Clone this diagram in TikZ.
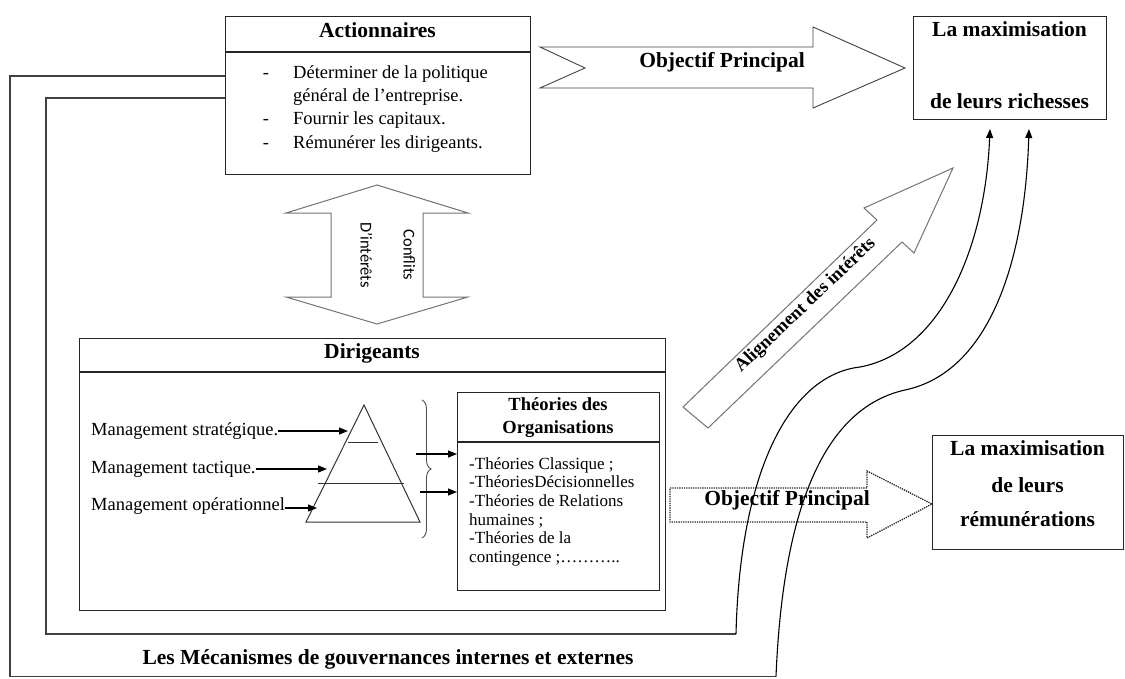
\documentclass[tikz,border=0pt]{standalone}
\usepackage{fontspec}
\setmainfont{Liberation Serif}
\newfontfamily\calib{Carlito}
\usetikzlibrary{arrows.meta,decorations.pathreplacing}
\begin{document}
\begin{tikzpicture}[x=1pt,y=-1pt,
  box/.style={draw=black!85, line width=1.1pt, inner sep=0pt, anchor=north west},
  hline/.style={draw=black!85, line width=1.1pt},
  ttl/.style={font=\fontsize{21.5}{26}\selectfont\bfseries, inner sep=0pt, text height=0.68em, text depth=0.2em},
  sttl/.style={font=\fontsize{18.5}{22}\selectfont\bfseries, inner sep=0pt, text height=0.68em, text depth=0.2em},
  body/.style={font=\fontsize{18.5}{23}\selectfont, inner sep=0pt, anchor=west, text height=0.66em, text depth=0.22em},
  lst/.style={font=\fontsize{17}{20}\selectfont, inner sep=0pt, anchor=west, text height=0.66em, text depth=0.22em},
  bigarrow/.style={draw=black!75, line width=0.9pt, line join=miter},
  greyarrow/.style={draw=black!55, line width=1pt, line join=miter},
  ptr/.style={line width=1.2pt, -{Triangle[length=9pt,width=7pt]}},
  link/.style={draw=black!75, line width=1.1pt},
  sans/.style={font=\calib\fontsize{16.5}{20}\selectfont, inner sep=0pt, text height=0.66em, text depth=0.2em}
]
\useasboundingbox (0,0) rectangle (1125,678);

% ---------- Actionnaires ----------
\node[box, minimum width=305pt, minimum height=158pt] (act) at (225,16) {};
\draw[hline] (225,52) -- (530,52);
\node[ttl] (actT) at (377.5,35) {Actionnaires};
\node[body, anchor=center] (d1) at (266,76) {-};
\node[body] (a1) at (293,76) {Déterminer de la politique};
\node[body] (a2) at (293,99) {général de l’entreprise.};
\node[body, anchor=center] (d2) at (266,122) {-};
\node[body] (a3) at (293,122) {Fournir les capitaux.};
\node[body, anchor=center] (d3) at (266,146) {-};
\node[body] (a4) at (293,146) {Rémunérer les dirigeants.};

% ---------- top arrow ----------
\draw[bigarrow] (540,47) -- (813,47) -- (813,27) -- (905,68) -- (813,108) -- (813,88) -- (540,88) -- (585,68) -- cycle;
\node[ttl] (obj1) at (722,65) {Objectif Principal};

% ---------- richesses box ----------
\node[box, minimum width=193pt, minimum height=103pt] (rich) at (913,16) {};
\node[ttl] (r1) at (1009.5,34) {La maximisation};
\node[ttl] (r2) at (1009.5,106) {de leurs richesses};

% ---------- conflits ----------
\draw[greyarrow] (377,185) -- (468,213) -- (423,213) -- (423,297) -- (468,297) -- (377,324) -- (286,297) -- (331,297) -- (331,213) -- (286,213) -- cycle;
\node[sans, rotate=-90] (c1) at (406,255) {Conflits};
\node[sans, rotate=-90] (c2) at (363,255) {D’intérêts};

% ---------- Dirigeants ----------
\node[box, minimum width=586pt, minimum height=272pt] (dir) at (79,338) {};
\draw[hline] (79,372) -- (665,372);
\node[ttl] (dirT) at (372,356) {Dirigeants};

\node[body] (m1) at (91,433) {Management stratégique.};
\node[body] (m2) at (91,471) {Management tactique.};
\node[body] (m3) at (91,508) {Management opérationnel};

% pyramid
\coordinate (pA) at (364,405);
\coordinate (pL) at (306,522);
\coordinate (pR) at (420,522);
\draw[black!80, line width=1pt] (pA) -- (pL) -- (pR) -- cycle;
\draw[black!80, line width=1pt] (348,442) -- (378,442);
\draw[black!80, line width=1pt] (318,483) -- (404,483);
\coordinate (t1) at (348,431);
\coordinate (t2) at (327,469);
\coordinate (t3) at (317,508);
\draw[ptr] (m1.east |- t1) -- (t1);
\draw[ptr] (m2.east |- t2) -- (t2);
\draw[ptr] (m3.east |- t3) -- (t3);

% brace
\draw[black!70, line width=0.9pt, decorate, decoration={brace, amplitude=9pt}] (422,400) -- (422,538);

% Theories box
\node[box, minimum width=202pt, minimum height=198pt] (theo) at (457,392) {};
\draw[hline] (457,442) -- (659,442);
\node[sttl] (th1) at (558,408) {Théories des};
\node[sttl] (th2) at (558,431) {Organisations};
\coordinate (b1) at (416,454);
\coordinate (b2) at (420,492);
\draw[ptr] (b1) -- (theo.west |- b1);
\draw[ptr] (b2) -- (theo.west |- b2);
\node[lst] (l1) at (469,467) {-Théories Classique ;};
\node[lst] (l2) at (469,485.6) {-ThéoriesDécisionnelles};
\node[lst] (l3) at (469,504.2) {-Théories de Relations};
\node[lst] (l4) at (469,522.8) {humaines ;};
\node[lst] (l5) at (469,541.4) {-Théories de la};
\node[lst] (l6) at (469,560) {contingence ;………..};

% ---------- dotted arrow ----------
\draw[black!85, line width=1.3pt, densely dotted, line join=miter] (670,488) -- (867,488) -- (867,471) -- (932,504) -- (867,538) -- (867,522) -- (670,522) -- cycle;
\node[ttl] (obj2) at (787,503) {Objectif Principal};

% ---------- remunerations box ----------
\node[box, minimum width=191pt, minimum height=114pt] (rem) at (932,435) {};
\node[ttl] (q1) at (1027.5,453) {La maximisation};
\node[ttl] (q2) at (1027.5,490) {de leurs};
\node[ttl] (q3) at (1027.5,524) {rémunérations};

% ---------- alignement arrow ----------
\draw[greyarrow] (708,428) -- (902,242) -- (914,253) -- (953,168) -- (864,208) -- (877,220) -- (683,407) -- cycle;
\node[sttl, rotate=43.5] (al) at (807,307) {Alignement des intérêts};

% ---------- governance connectors ----------
\coordinate (e1) at (990,129);
\coordinate (e2) at (1029,129);
\draw[link] (act.west |- 0,98) -- (46,98) -- (46,634) -- (736,634);
\draw[black, line width=1.1pt, -{Triangle[length=9pt,width=7pt]}] (736,634)
  .. controls (740,470) and (790,375) .. (860,367)
  .. controls (940,352) and (985,250) .. (e1);
\draw[link] (act.west |- 0,76) -- (10,76) -- (10,676.5) -- (776,676.5);
\draw[black, line width=1.1pt, -{Triangle[length=9pt,width=7pt]}] (776,676.5)
  .. controls (782,530) and (815,410) .. (905,390)
  .. controls (990,372) and (1025,260) .. (e2);

\node[ttl] (meca) at (388,662) {Les Mécanismes de gouvernances internes et externes};
\end{tikzpicture}
\end{document}
